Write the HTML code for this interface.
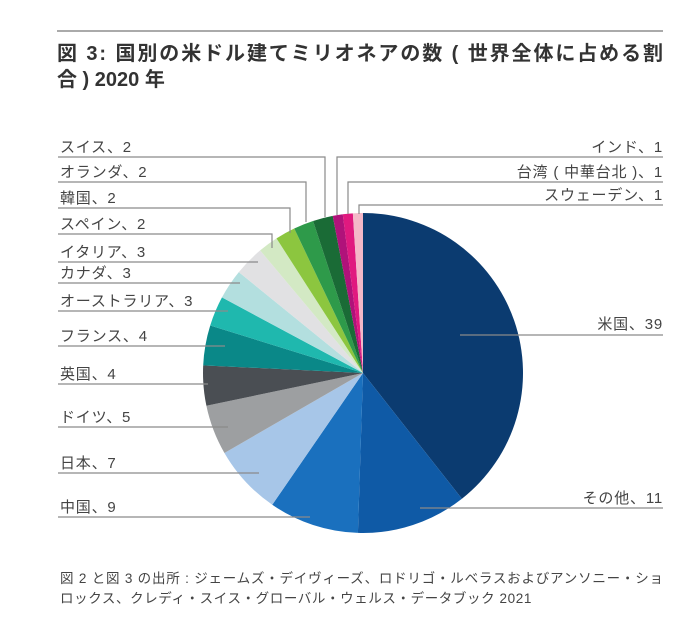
<!DOCTYPE html>
<html><head><meta charset="utf-8"><style>
body{margin:0;background:#fff;width:700px;height:628px;overflow:hidden;font-family:"Liberation Sans","Noto Sans CJK JP",sans-serif}
</style></head><body>
<svg width="700" height="628" xmlns="http://www.w3.org/2000/svg" font-family="Liberation Sans, Noto Sans CJK JP, sans-serif">
<line x1="57" y1="31" x2="663" y2="31" stroke="#555" stroke-width="1"/>
<text x="57" y="60" font-size="20" font-weight="bold" fill="#333" textLength="606" lengthAdjust="spacing">図 3: 国別の米ドル建てミリオネアの数 ( 世界全体に占める割</text>
<text x="57" y="86" font-size="20" font-weight="bold" fill="#333">合 ) 2020 年</text>
<g id="pie"></g>
<g stroke="#8a8a8a" stroke-width="1.2" fill="none">
<polyline points="58,157 325,157 325,217"/>
<polyline points="58,182 306,182 306,222"/>
<polyline points="58,208 290,208 290,233"/>
<polyline points="58,234 272,234 272,248"/>
<polyline points="58,262 258,262"/>
<polyline points="58,283 240,283"/>
<polyline points="58,311 228,311"/>
<polyline points="58,346 225,346"/>
<polyline points="58,384 208,384"/>
<polyline points="58,427 228,427"/>
<polyline points="58,473 259,473"/>
<polyline points="58,517 310,517"/>
<polyline points="663,157 337,157 337,215"/>
<polyline points="663,182 348,182 348,214"/>
<polyline points="663,205 359,205 359,214"/>
<polyline points="663,335 460,335"/>
<polyline points="663,508 420,508"/>
</g>
<g font-size="15" fill="#444" letter-spacing="0.8">
<text x="60" y="152">スイス、2</text>
<text x="60" y="177">オランダ、2</text>
<text x="60" y="203">韓国、2</text>
<text x="60" y="229">スペイン、2</text>
<text x="60" y="257">イタリア、3</text>
<text x="60" y="278">カナダ、3</text>
<text x="60" y="306">オーストラリア、3</text>
<text x="60" y="341">フランス、4</text>
<text x="60" y="379">英国、4</text>
<text x="60" y="422">ドイツ、5</text>
<text x="60" y="468">日本、7</text>
<text x="60" y="512">中国、9</text>
<g text-anchor="end">
<text x="663" y="152">インド、1</text>
<text x="663" y="177">台湾 ( 中華台北 )、1</text>
<text x="663" y="200">スウェーデン、1</text>
<text x="663" y="329">米国、39</text>
<text x="663" y="503">その他、11</text>
</g>
</g>
<g font-size="13.5" fill="#444">
<text x="60" y="583" textLength="603" lengthAdjust="spacing">図 2 と図 3 の出所 : ジェームズ・デイヴィーズ、ロドリゴ・ルベラスおよびアンソニー・ショ</text>
<text x="60" y="603" letter-spacing="0.6">ロックス、クレディ・スイス・グローバル・ウェルス・データブック 2021</text>
</g>
</svg>
<script>
var d=[[39,"#0b3b70"],[11,"#0f5aa6"],[9,"#1a70be"],[7,"#a7c6e8"],[5,"#9d9fa1"],[4,"#4a4e53"],[4,"#0a8888"],[3,"#1fb8ae"],[3,"#b3dfdf"],[3,"#e1e1e3"],[2,"#d3e9c4"],[2,"#8cc63f"],[2,"#2e9a4a"],[2,"#1a6b36"],[1,"#b0127a"],[1,"#e0197f"],[1,"#f4b8c8"]];
var cx=363,cy=373,r=160,t=0,s="";
d.forEach(function(e){var a0=t/99*2*Math.PI-Math.PI/2;t+=e[0];var a1=t/99*2*Math.PI-Math.PI/2;
var la=(a1-a0)>Math.PI?1:0;
s+='<path d="M'+cx+','+cy+' L'+(cx+r*Math.cos(a0))+','+(cy+r*Math.sin(a0))+' A'+r+','+r+' 0 '+la+' 1 '+(cx+r*Math.cos(a1))+','+(cy+r*Math.sin(a1))+' Z" fill="'+e[1]+'"/>';});
document.getElementById("pie").innerHTML=s;
</script>
</body></html>
